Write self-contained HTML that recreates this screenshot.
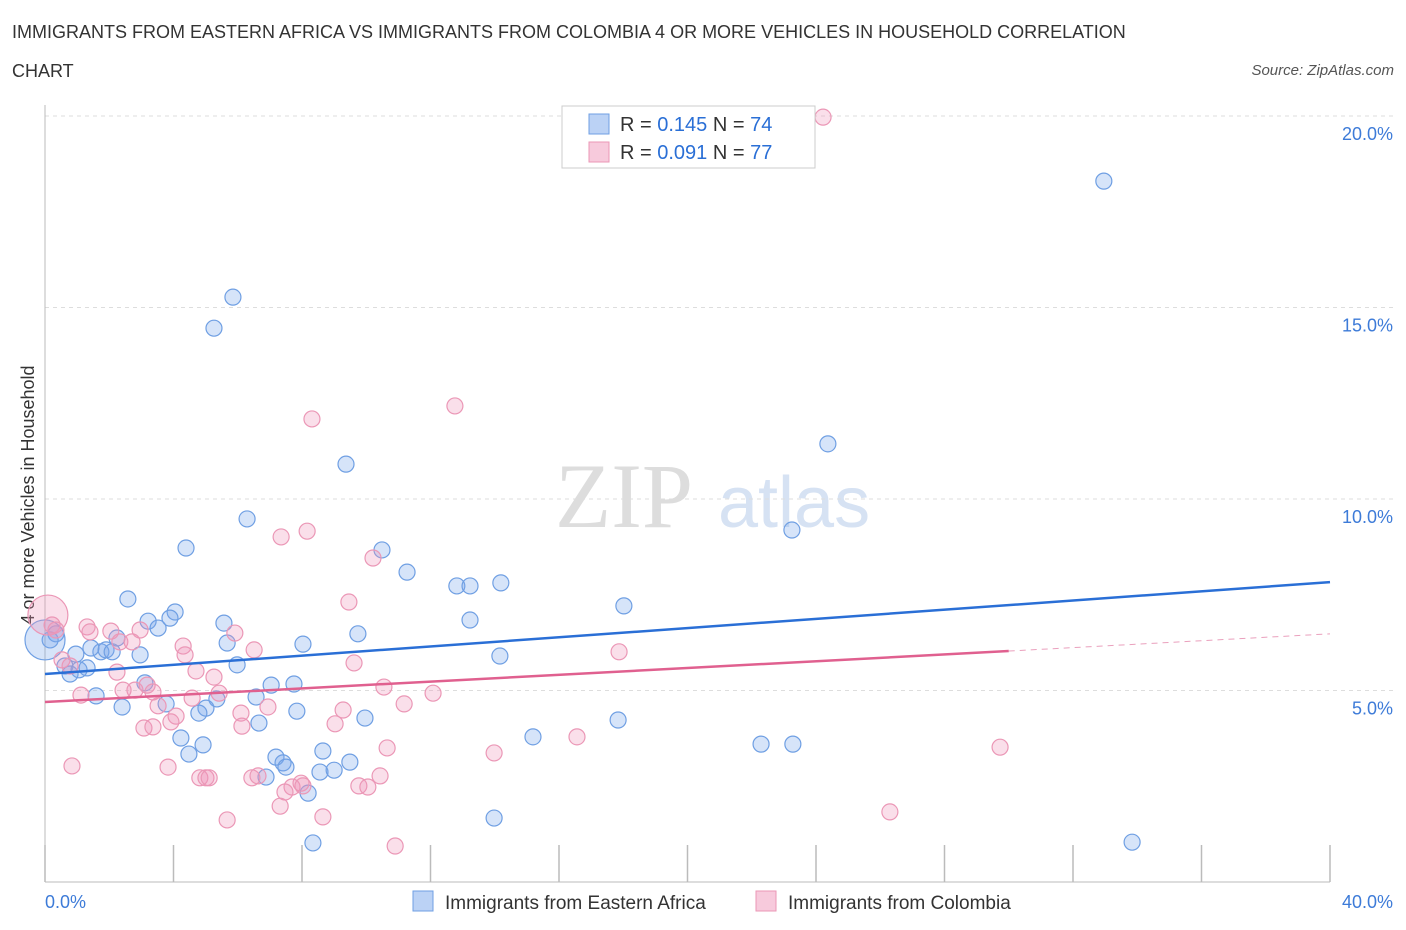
<!DOCTYPE html>
<html><head><meta charset="utf-8"><style>
body{margin:0;background:#fff;font-family:"Liberation Sans",sans-serif;}
#wrap{position:relative;width:1406px;height:930px;overflow:hidden;}
.t{position:absolute;color:#333;font-size:18px;}
</style></head><body>
<div id="wrap">
<div class="t" style="left:12px;top:22px;">IMMIGRANTS FROM EASTERN AFRICA VS IMMIGRANTS FROM COLOMBIA 4 OR MORE VEHICLES IN HOUSEHOLD CORRELATION</div>
<div class="t" style="left:12px;top:61px;">CHART</div>
<div class="t" style="right:12px;top:62px;font-size:15px;font-style:italic;color:#555;">Source: ZipAtlas.com</div>
<svg id="svg" width="1406" height="930" style="position:absolute;left:0;top:0"></svg>
</div>
<script>
const blueX=[5.85,5.26,32.96,24.37,9.37,6.29,23.25,4.39,10.49,11.27,12.82,13.23,14.19,2.58,18.02,4.05,3.21,5.57,3.52,3.89,13.23,9.74,8.03,5.67,2.24,2.96,1.74,1.90,2.09,1.43,0.96,0.62,1.06,1.31,0.78,0.34,0.16,5.98,3.11,7.04,7.75,6.57,1.59,2.40,3.77,5.01,4.79,5.35,7.84,9.96,6.66,17.84,4.23,15.19,4.92,4.48,22.29,23.28,9.49,7.19,7.41,6.88,7.50,8.65,8.56,9.00,8.19,13.98,8.34,33.84,14.16,0.0];
const blueY=[15.27,14.46,18.30,11.44,10.91,9.48,9.19,8.72,8.67,8.09,7.73,7.73,7.81,7.39,7.21,7.05,6.81,6.76,6.63,6.89,6.84,6.48,6.21,6.24,6.37,5.93,6.01,6.06,6.01,6.11,5.95,5.64,5.54,5.59,5.43,6.48,6.32,5.67,5.20,5.14,5.17,4.83,4.86,4.57,4.65,4.54,4.41,4.78,4.46,4.28,4.15,4.23,3.76,3.79,3.58,3.34,3.60,3.60,3.13,3.26,3.11,2.74,3.00,3.42,2.87,2.92,2.32,1.67,1.02,1.04,5.90,6.32];
const pinkX=[24.22,12.76,8.31,8.16,7.35,10.21,9.46,1.31,2.05,5.91,2.96,1.40,4.30,6.51,4.36,2.33,2.71,17.87,9.62,0.53,0.78,4.70,5.26,2.24,10.55,2.80,2.43,3.18,3.36,1.12,5.42,12.08,4.58,6.94,11.18,9.28,3.52,4.08,3.92,6.10,9.03,6.13,3.08,3.36,16.56,10.65,13.98,29.73,0.84,3.83,4.82,5.01,5.11,6.44,6.63,10.43,7.97,7.69,7.47,8.03,9.77,10.05,7.32,26.30,5.67,8.65,10.90,0.09,0.22,0.34];
const pinkY=[19.97,12.43,12.09,9.16,9.01,8.46,7.31,6.66,6.55,6.50,6.58,6.53,6.16,6.06,5.93,6.27,6.27,6.01,5.72,5.80,5.64,5.51,5.35,5.48,5.09,5.01,5.01,5.14,4.96,4.88,4.93,4.93,4.80,4.57,4.65,4.49,4.60,4.33,4.18,4.41,4.13,4.07,4.02,4.05,3.79,3.50,3.37,3.52,3.03,3.00,2.72,2.72,2.72,2.72,2.77,2.77,2.58,2.48,2.35,2.51,2.51,2.48,1.98,1.83,1.62,1.70,0.94,6.97,6.71,6.58];
const blueTrend=[5.43,7.83];
const pinkTrend=[4.70,6.03,6.48];
const yTicks=[5,10,15,20];
const yTickLabels=["5.0%","10.0%","15.0%","20.0%"];
const xTicks=[0,4,8,12,16,20,24,28,32,36,40];

const svg=document.getElementById('svg');
const NS='http://www.w3.org/2000/svg';
const X=v=>45+v*32.125, Y=v=>882-v*38.3;
function mk(tag,a,parent){const e=document.createElementNS(NS,tag);for(const k in a)e.setAttribute(k,a[k]);(parent||svg).appendChild(e);return e;}
// watermark
let w=mk('text',{x:555,y:527,'font-size':92,'font-family':'Liberation Serif',fill:'#ddd'});w.textContent='ZIP';


w=mk('text',{x:718,y:527,'font-size':72,'font-family':'Liberation Sans',fill:'#d6e2f3'});w.textContent='atlas';


yTicks.forEach((t,i)=>{
 const g=mk('line',{x1:45,x2:1395,y1:Y(t),y2:Y(t),stroke:'#ddd','stroke-dasharray':'4,4'});
 
 
 const l=mk('text',{x:1393,y:Y(t)+24,'text-anchor':'end','font-size':18,fill:'#3d7bd8'});l.textContent=yTickLabels[i];
 
 
});
let ax=mk('line',{x1:45,x2:45,y1:105,y2:882,stroke:'#bbb'});


ax=mk('line',{x1:45,x2:1330,y1:882,y2:882,stroke:'#bbb'});


xTicks.forEach(t=>{
 const l=mk('line',{x1:X(t),x2:X(t),y1:845,y2:882,stroke:'#bbb','stroke-width':1.5});
 
 
});
let xl=mk('text',{x:45,y:908,'font-size':18,fill:'#3d7bd8'});xl.textContent='0.0%';


xl=mk('text',{x:1393,y:908,'font-size':18,fill:'#3d7bd8','text-anchor':'end'});xl.textContent='40.0%';


let yt=mk('text',{x:34,y:495,'font-size':18,fill:'#333','text-anchor':'middle',transform:'rotate(-90 34 495)'});yt.textContent='4 or more Vehicles in Household';


function pts(xs,ys,fill,stroke,name){
 xs.forEach((x,i)=>{
  const big=(x<0.1);
  const c=mk('circle',{cx:X(x),cy:Y(ys[i]),r:big?20:8,fill:fill,stroke:stroke,'stroke-width':1.2});
  
  
 });
}
pts(blueX,blueY,'rgba(120,165,235,0.3)','#6f9fe3','blue-point');
pts(pinkX,pinkY,'rgba(240,150,185,0.3)','#eb97b6','pink-point');
let tl=mk('line',{x1:X(0),y1:Y(blueTrend[0]),x2:X(40),y2:Y(blueTrend[1]),stroke:'#2a6fd6','stroke-width':2.5});


tl=mk('line',{x1:X(0),y1:Y(pinkTrend[0]),x2:X(30),y2:Y(pinkTrend[1]),stroke:'#e0608f','stroke-width':2.5});


tl=mk('line',{x1:X(30),y1:Y(pinkTrend[1]),x2:X(40),y2:Y(pinkTrend[2]),stroke:'#eaa0bd','stroke-width':1,'stroke-dasharray':'6,5'});


// legend box
let lb=mk('rect',{x:562,y:106,width:253,height:62,fill:'#fff',stroke:'#ccc'});


[[114,'rgba(120,165,235,0.5)','#6f9fe3','0.145','74'],[142,'rgba(240,150,185,0.5)','#eb97b6','0.091','77']].forEach(r=>{
 const s=mk('rect',{x:589,y:r[0],width:20,height:20,fill:r[1],stroke:r[2]});
 
 
 const t=mk('text',{x:620,y:r[0]+17,'font-size':20,fill:'#333'});
 t.innerHTML='R = <tspan fill="#2a6fd6">'+r[3]+'</tspan>   N = <tspan fill="#2a6fd6">'+r[4]+'</tspan>';
 t.setAttribute('xml:space','preserve');
 
 
});
[[413,'rgba(120,165,235,0.5)','#6f9fe3','Immigrants from Eastern Africa'],[756,'rgba(240,150,185,0.5)','#eb97b6','Immigrants from Colombia']].forEach(r=>{
 const s=mk('rect',{x:r[0],y:891,width:20,height:20,fill:r[1],stroke:r[2]});
 
 
 const t=mk('text',{x:r[0]+32,y:909,'font-size':19,fill:'#333'});t.textContent=r[3];
 
 
});
</script>
</body></html>
